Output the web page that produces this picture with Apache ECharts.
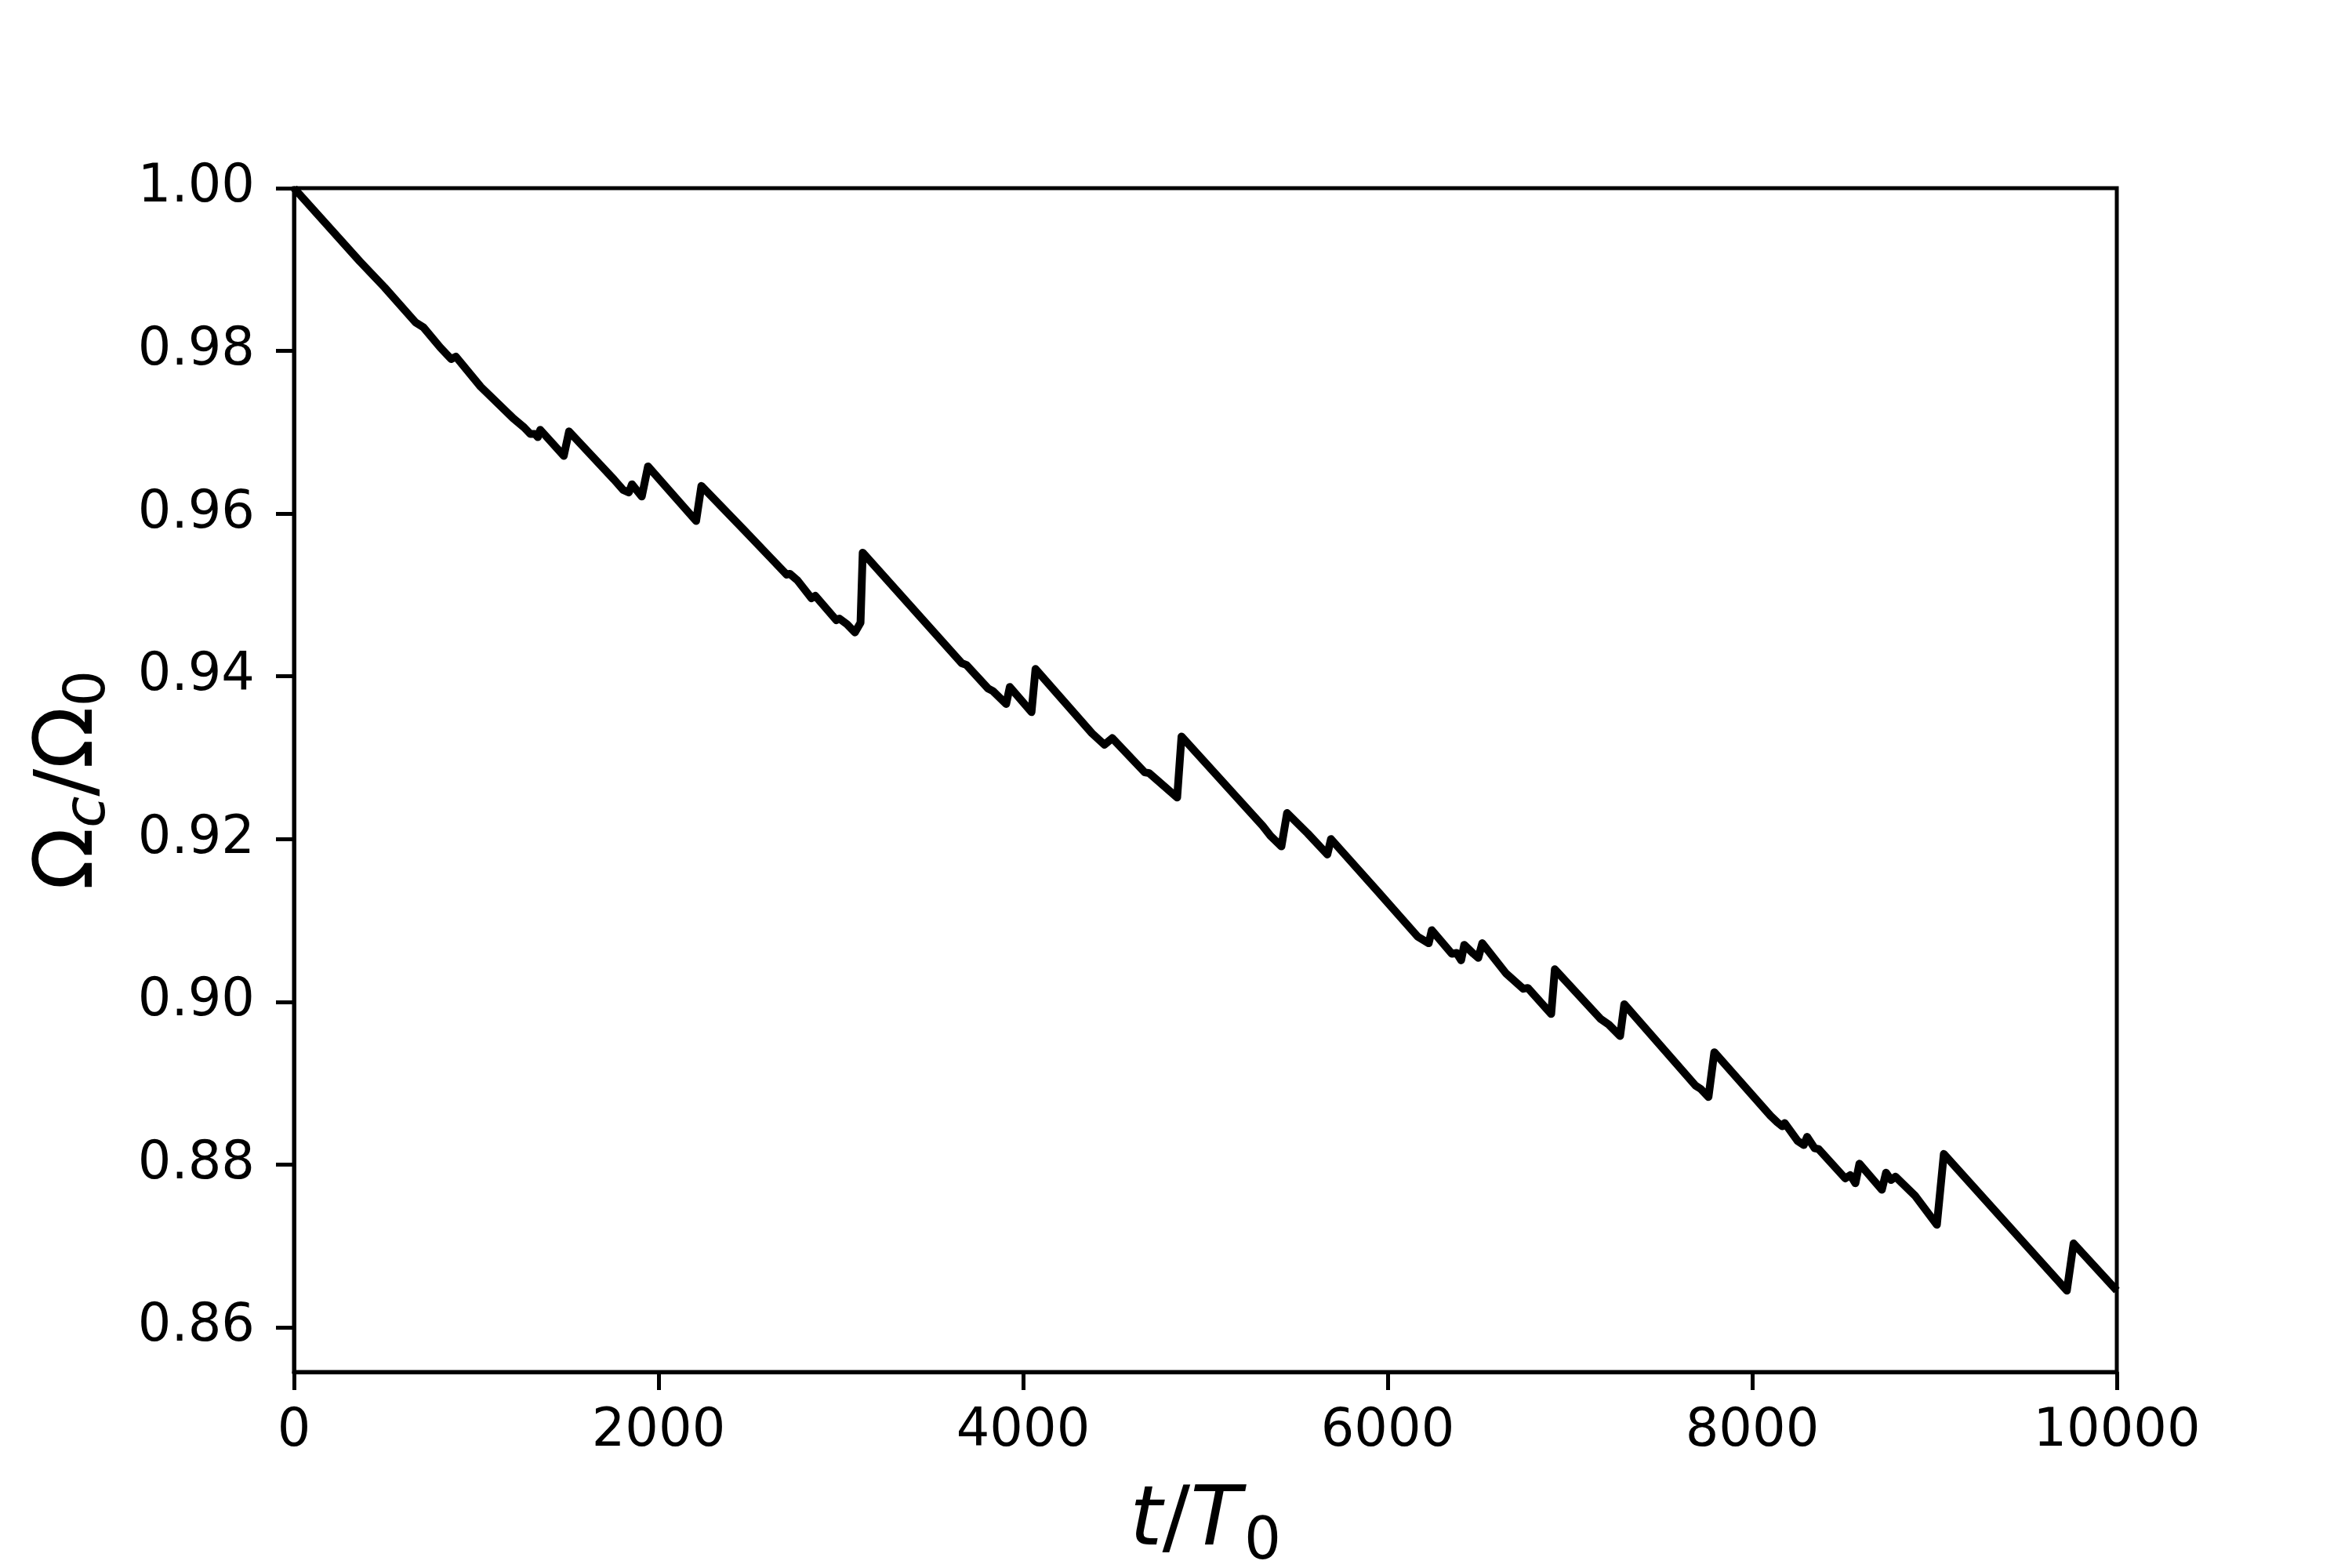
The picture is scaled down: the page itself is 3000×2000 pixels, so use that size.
<!DOCTYPE html>
<html>
<head>
<meta charset="utf-8">
<script src="https://cdn.jsdelivr.net/npm/echarts@6/dist/echarts.min.js"></script>
<style>
  html, body { margin: 0; padding: 0; background: #fff; }
  #chart { width: 3000px; height: 2000px; }
</style>
</head>
<body>
<div id="chart"></div>
<script>
// Time values t/T0
const tValues = [
  0, 361, 497, 667, 710, 803, 862, 888, 1024, 1203, 1262, 1296, 1322, 1338, 1351,
  1480, 1509, 1755, 1806, 1837, 1854, 1908, 1942, 2206, 2235, 2473, 2609, 2703,
  2720, 2762, 2839, 2860, 2975, 2992, 3034, 3077, 3108, 3120, 3664, 3689, 3808,
  3834, 3907, 3927, 4046, 4068, 4378, 4446, 4489, 4667, 4692, 4845, 4869, 5315,
  5357, 5417, 5448, 5561, 5669, 5689, 5944, 6165, 6225, 6242, 6352, 6378, 6403,
  6420, 6471, 6497, 6519, 6649, 6744, 6769, 6897, 6917, 7168, 7213, 7275, 7298,
  7689, 7717, 7760, 7792, 8100, 8137, 8165, 8178, 8249, 8283, 8301, 8342, 8364,
  8510, 8538, 8566, 8588, 8711, 8734, 8761, 8786, 8892, 9013, 9051, 9726, 9763,
  10000
];
// Omega_c / Omega_0
const omegaValues = [
  1.0000, 0.9910, 0.9878, 0.9835, 0.9829, 0.9804, 0.9790, 0.9793, 0.9756, 0.9717, 0.9706, 0.9698, 0.9698, 0.9694, 0.9703,
  0.9671, 0.9701, 0.9642, 0.9629, 0.9626, 0.9636, 0.9621, 0.9658, 0.9591, 0.9634, 0.9579, 0.9547, 0.9525,
  0.9526, 0.9518, 0.9496, 0.9499, 0.9469, 0.9471, 0.9464, 0.9454, 0.9466, 0.9552, 0.9416, 0.9414, 0.9385,
  0.9382, 0.9366, 0.9387, 0.9356, 0.9409, 0.9330, 0.9316, 0.9324, 0.9282, 0.9281, 0.9251, 0.9326, 0.9216,
  0.9204, 0.9191, 0.9232, 0.9207, 0.9181, 0.9200, 0.9136, 0.9080, 0.9072, 0.9088, 0.9059, 0.9060, 0.9051,
  0.9070, 0.9059, 0.9054, 0.9072, 0.9035, 0.9016, 0.9017, 0.8985, 0.9040, 0.8979, 0.8972, 0.8958, 0.8997,
  0.8897, 0.8893, 0.8883, 0.8938, 0.8860, 0.8852, 0.8847, 0.8851, 0.8829, 0.8824, 0.8834, 0.8820, 0.8819,
  0.8783, 0.8787, 0.8777, 0.8801, 0.8769, 0.8790, 0.8781, 0.8785, 0.8762, 0.8726, 0.8813, 0.8645, 0.8703,
  0.8645
];
const xTicks = [0, 2000, 4000, 6000, 8000, 10000];
const yTicks = [0.86, 0.88, 0.90, 0.92, 0.94, 0.96, 0.98, 1.00];

const seriesData = tValues.map((t, i) => [t, omegaValues[i]]);

const FONT = 'DejaVu Sans';
const chart = echarts.init(document.getElementById('chart'), null, { renderer: 'canvas' });
chart.setOption({
  backgroundColor: '#ffffff',
  animation: false,
  grid: {
    left: 375, right: 300, top: 240, bottom: 250,
    containLabel: false,
    outerBoundsMode: 'none',
    show: true, borderColor: '#000', borderWidth: 5, backgroundColor: 'transparent'
  },
  xAxis: {
    type: 'value',
    min: 0, max: 10000, interval: 2000,
    name: '{i|t}{n|/}{i|T}{s|0}',
    nameLocation: 'middle',
    nameGap: 128,
    nameTextStyle: {
      fontFamily: FONT, fontSize: 106, color: '#000',
      rich: {
        i: { fontFamily: FONT, fontSize: 106, fontStyle: 'italic', color: '#000' },
        n: { fontFamily: FONT, fontSize: 106, color: '#000' },
        s: { fontFamily: FONT, fontSize: 74, color: '#000', padding: [54, 0, 0, 4] }
      }
    },
    axisLine: { show: true, lineStyle: { color: '#000', width: 5 } },
    axisTick: { show: true, inside: false, length: 23, lineStyle: { color: '#000', width: 5 } },
    axisLabel: {
      show: true, margin: 43, fontFamily: FONT, fontSize: 67, color: '#000',
      customValues: xTicks,
      formatter: v => String(v)
    },
    splitLine: { show: false }
  },
  yAxis: {
    type: 'value',
    min: 0.8545, max: 1.0,
    name: '{r|Ω}{c|c}{r|/Ω}{s|0}',
    nameLocation: 'middle',
    nameGap: 224,
    nameTextStyle: {
      fontFamily: FONT, fontSize: 104, color: '#000',
      rich: {
        r: { fontFamily: FONT, fontSize: 104, color: '#000' },
        c: { fontFamily: FONT, fontSize: 73, fontStyle: 'italic', color: '#000', padding: [50, 0, 0, 0] },
        s: { fontFamily: FONT, fontSize: 73, color: '#000', padding: [50, 0, 0, 0] }
      }
    },
    axisLine: { show: true, lineStyle: { color: '#000', width: 5 } },
    axisTick: { show: true, inside: false, length: 23, lineStyle: { color: '#000', width: 5 }, customValues: yTicks },
    axisLabel: {
      show: true, margin: 50, fontFamily: FONT, fontSize: 67, color: '#000',
      customValues: yTicks,
      formatter: v => v.toFixed(2)
    },
    splitLine: { show: false }
  },
  series: [{
    type: 'line',
    data: seriesData,
    showSymbol: false,
    symbol: 'none',
    clip: true,
    lineStyle: { color: '#000', width: 10, join: 'round', cap: 'butt' }
  }]
});
</script>
</body>
</html>
